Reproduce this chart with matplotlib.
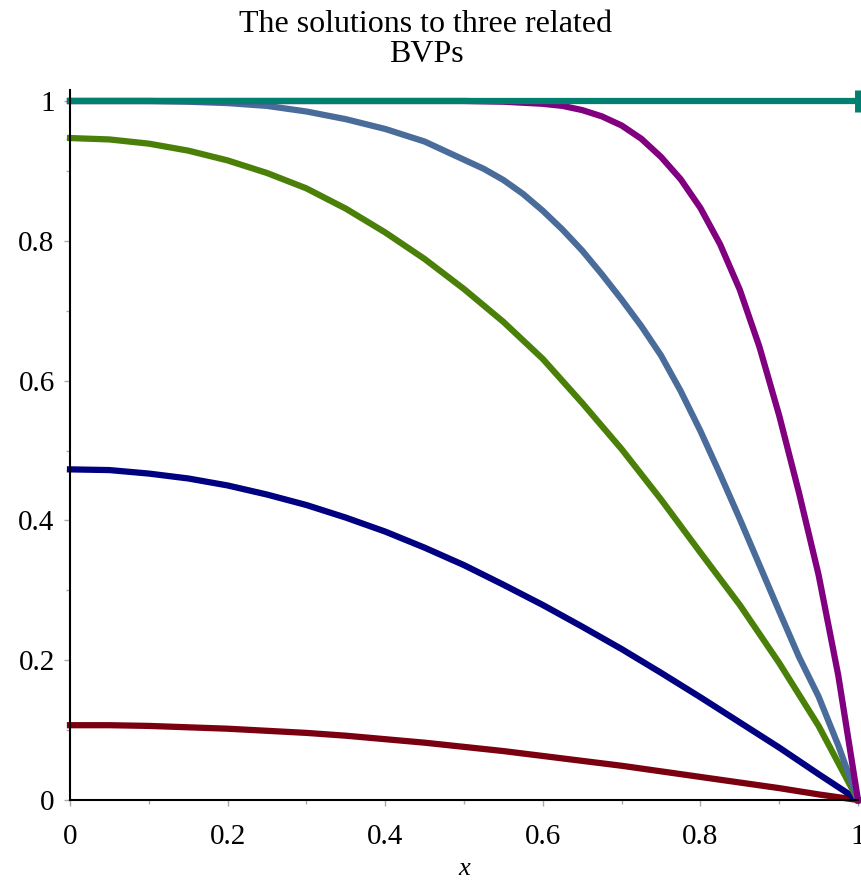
import matplotlib
matplotlib.use("Agg")
import matplotlib.pyplot as plt

# sample points of the computed BVP solutions
x_steps = [0.0, 0.05, 0.1, 0.15, 0.2, 0.25, 0.3, 0.35, 0.4, 0.45, 0.5,
           0.55, 0.6, 0.65, 0.7, 0.75, 0.8, 0.85, 0.9, 0.95, 1.0]

u_red = [0.107, 0.107, 0.106, 0.104, 0.102, 0.099, 0.096, 0.092, 0.087, 0.082, 0.076,
         0.070, 0.063, 0.056, 0.049, 0.041, 0.033, 0.025, 0.017, 0.008, 0.0]
u_navy = [0.473, 0.472, 0.467, 0.460, 0.450, 0.437, 0.422, 0.404, 0.384, 0.361, 0.336,
          0.308, 0.279, 0.248, 0.216, 0.182, 0.147, 0.111, 0.075, 0.037, 0.0]
u_green = [0.947, 0.945, 0.939, 0.929, 0.915, 0.897, 0.875, 0.846, 0.812, 0.774, 0.731,
           0.684, 0.631, 0.568, 0.502, 0.430, 0.354, 0.279, 0.196, 0.106, 0.0]

x_blue = [0.0, 0.1, 0.15, 0.2, 0.25, 0.3, 0.35, 0.4, 0.45, 0.5, 0.525, 0.55, 0.575,
          0.6, 0.625, 0.65, 0.675, 0.7, 0.725, 0.75, 0.775, 0.8, 0.825, 0.85,
          0.875, 0.9, 0.925, 0.95, 0.975, 1.0]
u_blue = [1.0, 1.0, 0.999, 0.997, 0.993, 0.985, 0.974, 0.960, 0.942, 0.916, 0.903,
          0.887, 0.867, 0.843, 0.816, 0.786, 0.752, 0.716, 0.678, 0.636, 0.585,
          0.528, 0.466, 0.402, 0.336, 0.270, 0.205, 0.148, 0.078, 0.0]

x_purple = [0.0, 0.25, 0.5, 0.55, 0.6, 0.625, 0.65, 0.675, 0.7, 0.725, 0.75, 0.775,
            0.8, 0.825, 0.85, 0.875, 0.9, 0.925, 0.95, 0.975, 1.0]
u_purple = [1.0, 1.0, 1.0, 0.999, 0.996, 0.993, 0.987, 0.978, 0.965, 0.946, 0.920,
            0.888, 0.847, 0.795, 0.730, 0.648, 0.550, 0.440, 0.322, 0.178, 0.0]

x_teal = [0.0, 1.0]
u_teal = [1.0, 1.0]

tick_vals = [0, 0.2, 0.4, 0.6, 0.8, 1]
tick_text = ["0", "0.2", "0.4", "0.6", "0.8", "1"]

serif = "Liberation Serif"
lw = 4.5

fig = plt.figure(figsize=(8.61, 8.86), dpi=100)
ax = fig.add_axes([70 / 861, 86 / 886, 788 / 861, 710 / 886])

ax.plot(x_steps, u_red, color="#7a0010", lw=lw, clip_on=False)
ax.plot(x_steps, u_navy, color="#000080", lw=lw, clip_on=False)
ax.plot(x_steps, u_green, color="#4a7f08", lw=lw, clip_on=False)
ax.plot(x_blue, u_blue, color="#4a6c9b", lw=lw, clip_on=False)
ax.plot(x_purple, u_purple, color="#800080", lw=lw, clip_on=False)
ax.plot(x_teal, u_teal, color="#00806e", lw=lw, clip_on=False,
        marker="|", markersize=16, markeredgewidth=5, markevery=[1])

ax.set_xlim(0, 1)
ax.set_ylim(0, 710 / 699)

for side in ("top", "right"):
    ax.spines[side].set_visible(False)
for side in ("left", "bottom"):
    ax.spines[side].set_linewidth(1.5)
    ax.spines[side].set_color("black")

ax.set_xticks(tick_vals)
ax.set_xticklabels(tick_text)
ax.set_yticks(tick_vals)
ax.set_yticklabels(tick_text)
ax.set_xticks([0.1, 0.3, 0.5, 0.7, 0.9], minor=True)
ax.set_yticks([0.1, 0.3, 0.5, 0.7, 0.9], minor=True)
ax.tick_params(which="both", direction="out", color="#aaaaaa", width=1)
ax.tick_params(which="major", length=4)
ax.tick_params(which="minor", length=3)
ax.tick_params(axis="x", pad=13)
ax.tick_params(axis="y", pad=7)
for lab in ax.get_xticklabels() + ax.get_yticklabels():
    lab.set_fontfamily(serif)
    lab.set_fontsize(21)

ax.set_xlabel("x", fontfamily=serif, fontstyle="italic", fontsize=19, labelpad=6)

fig.suptitle("The solutions to three related\nBVPs", x=426 / 861, y=1 - 10 / 886,
             va="top", fontfamily=serif, fontsize=23, linespacing=1.05)

fig.savefig("out.png", dpi=100)
